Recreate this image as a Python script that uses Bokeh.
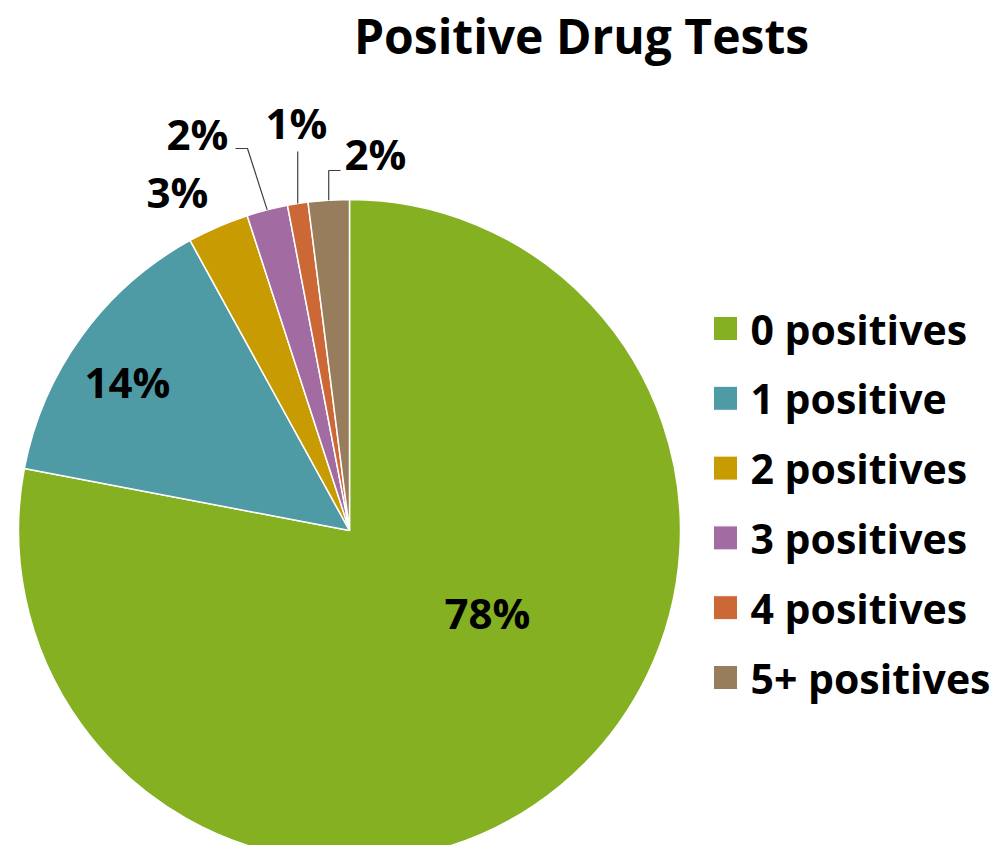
import math
from bokeh.plotting import figure
from bokeh.models import ColumnDataSource
from bokeh.core.properties import value
from bokeh.embed import file_html
from bokeh.resources import INLINE

# ---- data ----
categories = ["0 positives", "1 positive", "2 positives", "3 positives", "4 positives", "5+ positives"]
percents = [78, 14, 3, 2, 1, 2]
colors = ["#85B021", "#4F9BA5", "#C99B02", "#A26BA1", "#CC6835", "#977D5C"]
title_text = "Positive Drug Tests"

# ---- layout (style) ----
W, H = 991, 845
def Y(img_y):
    return H - img_y

CX, CY = 349, Y(530)
R = 331
FONT = "Open Sans"

p = figure(width=W, height=H, x_range=(0, W), y_range=(0, H),
           output_backend="svg", toolbar_location=None, min_border=0)
p.axis.visible = False
p.grid.visible = False
p.outline_line_color = None
p.background_fill_color = "white"

total = sum(percents)
starts, ends, mids = [], [], []
cum = 0.0
for v in percents:
    a0 = math.pi / 2 - 2 * math.pi * cum / total
    cum += v
    a1 = math.pi / 2 - 2 * math.pi * cum / total
    starts.append(a0)
    ends.append(a1)
    mids.append((a0 + a1) / 2)

src = ColumnDataSource(dict(start=starts, end=ends, color=colors))
p.wedge(x=CX, y=CY, radius=R, radius_units="screen", start_angle="start", end_angle="end",
        direction="clock", fill_color="color", line_color="white", line_width=1.5, source=src)

# ---- data labels (positions are style) ----
label_pos = [(487, 612), (127, 381), (177, 191), (197, 133), (296, 122), (375, 153)]
lx = [x for x, y in label_pos]
ly = [Y(y) for x, y in label_pos]
labels = [f"{v}%" for v in percents]
p.text(x=lx, y=ly, text=labels, text_font=value(FONT), text_font_size="42px",
       text_font_style="bold", text_align="center", text_baseline="middle",
       text_color="black")

# leader lines for small slices
def edge(i):
    return CX + R * math.cos(mids[i]), CY + R * math.sin(mids[i])

ex, ey = edge(3)
p.line([235, 247, ex], [Y(148), Y(148), ey], line_color="#404040", line_width=1.2)
ex, ey = edge(4)
p.line([ex, ex], [Y(151), ey], line_color="#404040", line_width=1.2)
ex, ey = edge(5)
p.line([340, ex, ex], [Y(170), Y(170), ey], line_color="#404040", line_width=1.2)

# ---- legend ----
leg_c = [328 + 69.8 * i for i in range(len(categories))]
p.rect(x=[725] * len(categories), y=[Y(c) for c in leg_c], width=24, height=24,
       width_units="screen", height_units="screen", fill_color=colors,
       line_color="white", line_width=1)
p.text(x=[750] * len(categories), y=[Y(c) for c in leg_c], text=categories,
       text_font=value(FONT), text_font_size="41px", text_font_style="bold",
       text_align="left", text_baseline="middle", text_color="black")

# ---- title ----
p.text(x=[581], y=[Y(35)], text=[title_text], text_font=value(FONT), text_font_size="48px",
       text_font_style="bold", text_align="center", text_baseline="middle",
       text_color="black")

open("out.html", "w").write(file_html(p, INLINE))
